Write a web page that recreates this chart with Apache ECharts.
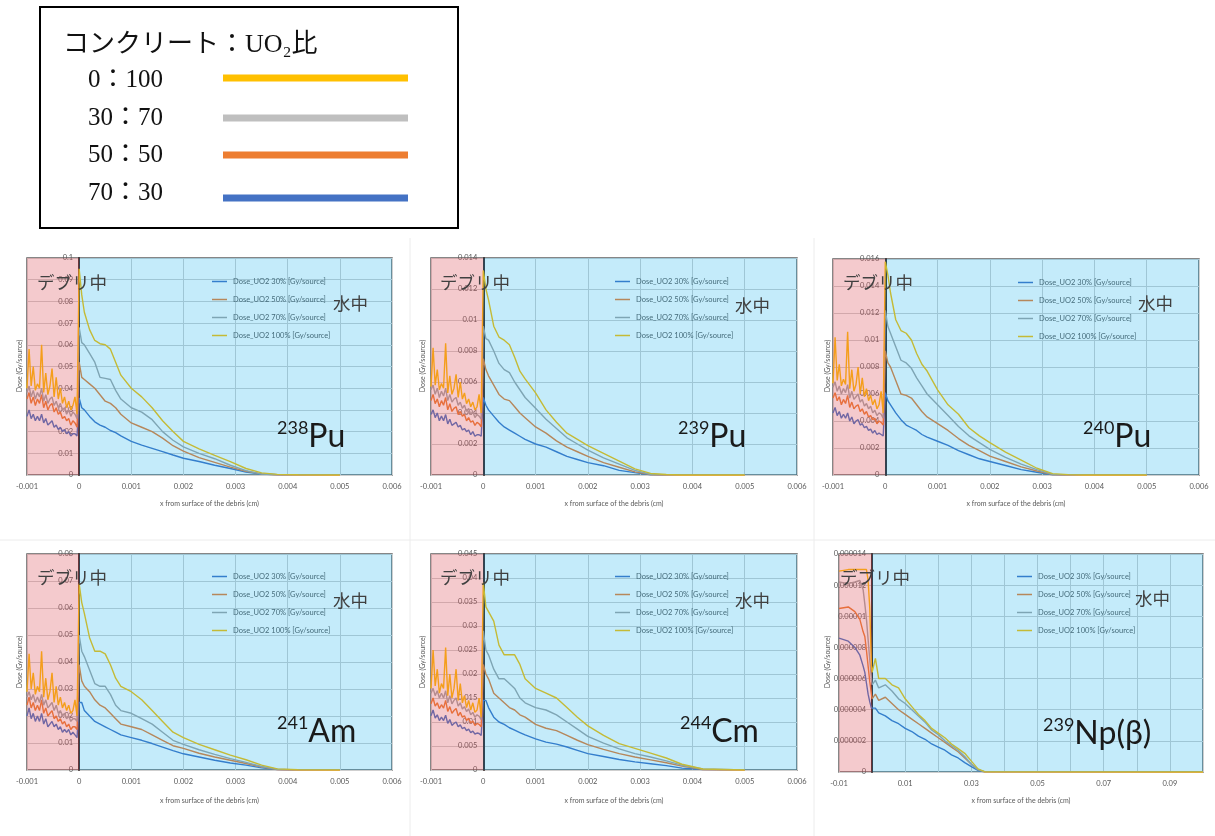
<!DOCTYPE html>
<html><head><meta charset="utf-8">
<script src="https://cdn.jsdelivr.net/npm/echarts@6/dist/echarts.min.js"></script>
<style>html,body{margin:0;padding:0;background:#fff}#c{width:1215px;height:836px}</style>
</head><body><div id="c"></div><script>
// ---- series names / legend labels ----
const seriesNames = ['Dose_UO2 30% [Gy/source]', 'Dose_UO2 50% [Gy/source]', 'Dose_UO2 70% [Gy/source]', 'Dose_UO2 100% [Gy/source]'];
const ratioLabels = ['0：100', '30：70', '50：50', '70：30'];

// ---- x positions (cm) for panels 1-5 ----
const xDebris = [-0.001, -0.00096, -0.00092, -0.00088, -0.00084, -0.0008, -0.00076, -0.00072, -0.00068, -0.00064, -0.0006, -0.00056, -0.00052, -0.00048, -0.00044, -0.0004, -0.00036, -0.00032, -0.00028, -0.00024, -0.0002, -0.00016, -0.00012, -0.00008, -0.00004];
const xWater = [0, 0.00005, 0.0001, 0.0002, 0.0003, 0.0004, 0.0005, 0.0006, 0.0007, 0.0008, 0.001, 0.0012, 0.0014, 0.0016, 0.0018, 0.002, 0.0023, 0.0026, 0.0029, 0.0032, 0.0035, 0.0038, 0.0042, 0.005];

// ---- 238Pu ----
const pu238_30 = [0.027, 0.030, 0.026, 0.028, 0.025, 0.027, 0.025, 0.028, 0.024, 0.026, 0.023, 0.024, 0.025, 0.022, 0.023, 0.021, 0.022, 0.020, 0.021, 0.019, 0.020, 0.018, 0.019, 0.019, 0.018,
  0.0355, 0.031, 0.030, 0.027, 0.0245, 0.023, 0.022, 0.0205, 0.0195, 0.018, 0.0155, 0.0138, 0.0123, 0.0108, 0.0092, 0.0077, 0.0062, 0.0045, 0.003, 0.0014, 0.0004, 0.0001, 0, 0];
const pu238_50 = [0.035, 0.038, 0.033, 0.036, 0.032, 0.035, 0.033, 0.037, 0.031, 0.034, 0.030, 0.032, 0.033, 0.029, 0.031, 0.028, 0.029, 0.026, 0.027, 0.025, 0.026, 0.023, 0.025, 0.024, 0.022,
  0.052, 0.045, 0.044, 0.042, 0.040, 0.037, 0.034, 0.033, 0.031, 0.028, 0.024, 0.022, 0.020, 0.017, 0.0135, 0.011, 0.008, 0.0058, 0.0036, 0.0017, 0.0005, 0.0001, 0, 0];
const pu238_70 = [0.038, 0.041, 0.036, 0.039, 0.035, 0.038, 0.036, 0.040, 0.034, 0.037, 0.033, 0.035, 0.036, 0.032, 0.034, 0.031, 0.033, 0.030, 0.031, 0.028, 0.030, 0.027, 0.029, 0.028, 0.026,
  0.068, 0.061, 0.060, 0.056, 0.052, 0.045, 0.0445, 0.044, 0.039, 0.035, 0.031, 0.029, 0.0255, 0.020, 0.016, 0.013, 0.010, 0.0075, 0.0045, 0.002, 0.0004, 0.0001, 0, 0];
const pu238_100 = [0.040, 0.058, 0.041, 0.050, 0.039, 0.042, 0.040, 0.060, 0.038, 0.047, 0.037, 0.041, 0.049, 0.036, 0.045, 0.035, 0.040, 0.033, 0.036, 0.031, 0.034, 0.030, 0.032, 0.036, 0.028,
  0.095, 0.083, 0.075, 0.067, 0.062, 0.0605, 0.060, 0.058, 0.052, 0.046, 0.040, 0.036, 0.031, 0.025, 0.020, 0.0155, 0.012, 0.009, 0.0062, 0.003, 0.001, 0.0003, 0.0001, 0];

// ---- 239Pu ----
const pu239_30 = [0.0039, 0.0042, 0.0037, 0.0040, 0.0035, 0.0038, 0.0035, 0.0039, 0.0033, 0.0036, 0.0032, 0.0033, 0.0034, 0.0031, 0.0032, 0.0029, 0.0030, 0.0028, 0.0029, 0.0026, 0.0028, 0.0025, 0.0026, 0.0026, 0.0025,
  0.0050, 0.0045, 0.0042, 0.0038, 0.0034, 0.0031, 0.0029, 0.0027, 0.0025, 0.0023, 0.0020, 0.0018, 0.0015, 0.0012, 0.0010, 0.0008, 0.0006, 0.0003, 0.00015, 0.00002, 0, 0, 0, 0];
const pu239_50 = [0.0048, 0.0052, 0.0046, 0.0049, 0.0044, 0.0048, 0.0045, 0.0050, 0.0042, 0.0046, 0.0041, 0.0043, 0.0044, 0.0039, 0.0041, 0.0038, 0.0039, 0.0035, 0.0037, 0.0034, 0.0035, 0.0032, 0.0034, 0.0033, 0.0031,
  0.0075, 0.0068, 0.0064, 0.0058, 0.0052, 0.0049, 0.0048, 0.0044, 0.0040, 0.0037, 0.0031, 0.0027, 0.0022, 0.0018, 0.0015, 0.0012, 0.0008, 0.0005, 0.0002, 0.00003, 0, 0, 0, 0];
const pu239_70 = [0.0055, 0.0058, 0.0052, 0.0056, 0.0050, 0.0054, 0.0051, 0.0056, 0.0048, 0.0052, 0.0047, 0.0049, 0.0050, 0.0045, 0.0047, 0.0043, 0.0045, 0.0041, 0.0043, 0.0039, 0.0041, 0.0037, 0.0039, 0.0038, 0.0036,
  0.0096, 0.0088, 0.0087, 0.0080, 0.0072, 0.0068, 0.0066, 0.0060, 0.0055, 0.0050, 0.0043, 0.0036, 0.0030, 0.0024, 0.0020, 0.0016, 0.0011, 0.0007, 0.0003, 0.00005, 0, 0, 0, 0];
const pu239_100 = [0.0057, 0.0082, 0.0058, 0.0068, 0.0055, 0.0059, 0.0056, 0.0085, 0.0053, 0.0064, 0.0052, 0.0056, 0.0065, 0.0050, 0.0060, 0.0049, 0.0053, 0.0046, 0.0049, 0.0044, 0.0047, 0.0042, 0.0044, 0.0052, 0.0040,
  0.0132, 0.0120, 0.0113, 0.0096, 0.0089, 0.0087, 0.0084, 0.0076, 0.0067, 0.0062, 0.0053, 0.0042, 0.0034, 0.0027, 0.0023, 0.0019, 0.0014, 0.0009, 0.0004, 0.0001, 0.00003, 0, 0, 0];

// ---- 240Pu ----
const pu240_30 = [0.0046, 0.0050, 0.0044, 0.0047, 0.0042, 0.0045, 0.0042, 0.0046, 0.0040, 0.0043, 0.0038, 0.0040, 0.0041, 0.0037, 0.0038, 0.0035, 0.0036, 0.0033, 0.0034, 0.0031, 0.0033, 0.0030, 0.0031, 0.0030, 0.0029,
  0.0061, 0.0055, 0.0052, 0.0046, 0.0041, 0.0037, 0.0035, 0.0033, 0.0030, 0.0028, 0.0025, 0.0022, 0.0018, 0.0015, 0.0012, 0.0010, 0.0007, 0.0004, 0.0002, 0.00002, 0, 0, 0, 0];
const pu240_50 = [0.0057, 0.0061, 0.0055, 0.0058, 0.0052, 0.0056, 0.0053, 0.0059, 0.0050, 0.0054, 0.0049, 0.0051, 0.0052, 0.0047, 0.0049, 0.0045, 0.0047, 0.0043, 0.0044, 0.0041, 0.0042, 0.0038, 0.0040, 0.0039, 0.0037,
  0.0092, 0.0083, 0.0080, 0.0070, 0.0060, 0.0059, 0.0057, 0.0052, 0.0047, 0.0043, 0.0038, 0.0033, 0.0027, 0.0022, 0.0018, 0.0014, 0.0010, 0.0006, 0.0003, 0.00004, 0, 0, 0, 0];
const pu240_70 = [0.0065, 0.0069, 0.0062, 0.0066, 0.0060, 0.0064, 0.0061, 0.0067, 0.0057, 0.0062, 0.0056, 0.0058, 0.0060, 0.0054, 0.0056, 0.0051, 0.0053, 0.0049, 0.0051, 0.0046, 0.0048, 0.0044, 0.0046, 0.0045, 0.0042,
  0.0122, 0.0110, 0.0105, 0.0095, 0.0085, 0.0083, 0.0079, 0.0072, 0.0066, 0.0060, 0.0052, 0.0044, 0.0036, 0.0029, 0.0024, 0.0019, 0.0013, 0.0008, 0.0004, 0.00005, 0, 0, 0, 0];
const pu240_100 = [0.0068, 0.0102, 0.0070, 0.0082, 0.0066, 0.0071, 0.0067, 0.0106, 0.0064, 0.0078, 0.0062, 0.0067, 0.0080, 0.0060, 0.0072, 0.0058, 0.0064, 0.0055, 0.0059, 0.0052, 0.0056, 0.0049, 0.0052, 0.0062, 0.0046,
  0.0158, 0.0148, 0.0135, 0.0115, 0.0107, 0.0105, 0.0100, 0.0090, 0.0082, 0.0077, 0.0063, 0.0052, 0.0045, 0.0035, 0.0029, 0.0024, 0.0017, 0.0011, 0.0005, 0.0001, 0.00003, 0, 0, 0];

// ---- 241Am ----
const am241_30 = [0.020, 0.023, 0.019, 0.021, 0.018, 0.020, 0.018, 0.021, 0.017, 0.019, 0.016, 0.017, 0.018, 0.016, 0.017, 0.015, 0.016, 0.014, 0.015, 0.014, 0.015, 0.013, 0.014, 0.013, 0.012,
  0.025, 0.025, 0.022, 0.020, 0.018, 0.017, 0.016, 0.015, 0.014, 0.013, 0.012, 0.011, 0.0098, 0.0085, 0.0072, 0.006, 0.0048, 0.0036, 0.0026, 0.0018, 0.0008, 0.0002, 0, 0];
const am241_50 = [0.024, 0.027, 0.023, 0.025, 0.022, 0.024, 0.022, 0.026, 0.021, 0.023, 0.020, 0.021, 0.022, 0.019, 0.020, 0.018, 0.019, 0.017, 0.018, 0.016, 0.017, 0.015, 0.016, 0.016, 0.015,
  0.039, 0.033, 0.031, 0.029, 0.026, 0.024, 0.023, 0.021, 0.019, 0.017, 0.016, 0.015, 0.013, 0.011, 0.009, 0.008, 0.0062, 0.0048, 0.0036, 0.0024, 0.0011, 0.0002, 0, 0];
const am241_70 = [0.027, 0.029, 0.026, 0.028, 0.025, 0.027, 0.025, 0.028, 0.024, 0.026, 0.023, 0.024, 0.025, 0.022, 0.024, 0.021, 0.022, 0.020, 0.021, 0.019, 0.020, 0.018, 0.019, 0.019, 0.018,
  0.050, 0.044, 0.042, 0.037, 0.032, 0.031, 0.031, 0.028, 0.024, 0.022, 0.021, 0.019, 0.017, 0.014, 0.011, 0.0095, 0.0075, 0.0058, 0.0042, 0.0028, 0.0013, 0.0003, 0, 0];
const am241_100 = [0.029, 0.043, 0.030, 0.036, 0.028, 0.031, 0.029, 0.044, 0.027, 0.034, 0.026, 0.029, 0.036, 0.025, 0.031, 0.024, 0.027, 0.023, 0.025, 0.022, 0.024, 0.021, 0.022, 0.026, 0.020,
  0.069, 0.062, 0.058, 0.049, 0.044, 0.044, 0.043, 0.039, 0.034, 0.031, 0.029, 0.026, 0.022, 0.018, 0.014, 0.012, 0.0095, 0.0075, 0.0055, 0.0038, 0.0018, 0.0004, 0.0001, 0];

// ---- 244Cm ----
const cm244_30 = [0.0113, 0.0125, 0.0108, 0.0115, 0.0103, 0.011, 0.0103, 0.0114, 0.0097, 0.0105, 0.0093, 0.0097, 0.01, 0.009, 0.0094, 0.0086, 0.0089, 0.0082, 0.0085, 0.0078, 0.0081, 0.0075, 0.0077, 0.0076, 0.0072,
  0.0145, 0.0145, 0.013, 0.011, 0.010, 0.0095, 0.0088, 0.0083, 0.0078, 0.0073, 0.0065, 0.0058, 0.0054, 0.0048, 0.0041, 0.0034, 0.0028, 0.0022, 0.0017, 0.0013, 0.0009, 0.0004, 0.0001, 0];
const cm244_50 = [0.0138, 0.015, 0.0133, 0.014, 0.0128, 0.0136, 0.0129, 0.0145, 0.0122, 0.0132, 0.0118, 0.0124, 0.0128, 0.0113, 0.012, 0.011, 0.0113, 0.0103, 0.0108, 0.0098, 0.0102, 0.0093, 0.0097, 0.0095, 0.009,
  0.022, 0.020, 0.019, 0.016, 0.015, 0.014, 0.013, 0.0125, 0.0115, 0.011, 0.0095, 0.0087, 0.0082, 0.0072, 0.0062, 0.0053, 0.0043, 0.0034, 0.0027, 0.0021, 0.0015, 0.0008, 0.0001, 0];
const cm244_70 = [0.016, 0.017, 0.0155, 0.0165, 0.015, 0.016, 0.015, 0.0165, 0.014, 0.0155, 0.0138, 0.0145, 0.015, 0.0133, 0.014, 0.0127, 0.0132, 0.0122, 0.0127, 0.0115, 0.012, 0.011, 0.0115, 0.0112, 0.0105,
  0.029, 0.025, 0.024, 0.021, 0.019, 0.019, 0.018, 0.017, 0.015, 0.014, 0.013, 0.0125, 0.0115, 0.010, 0.0085, 0.007, 0.0056, 0.0044, 0.0034, 0.0027, 0.0019, 0.001, 0.0002, 0];
const cm244_100 = [0.017, 0.025, 0.0175, 0.021, 0.016, 0.018, 0.017, 0.0255, 0.0155, 0.020, 0.015, 0.017, 0.021, 0.0145, 0.018, 0.014, 0.0155, 0.013, 0.0145, 0.0125, 0.014, 0.012, 0.0125, 0.015, 0.011,
  0.039, 0.034, 0.033, 0.031, 0.026, 0.024, 0.024, 0.024, 0.022, 0.019, 0.017, 0.016, 0.015, 0.013, 0.011, 0.0092, 0.0072, 0.0055, 0.0045, 0.0035, 0.0025, 0.0012, 0.0002, 0];

// ---- 239Np (beta): own x positions ----
const npXDebris = [-0.01, -0.0097, -0.0072, -0.0052, -0.0037, -0.0027, -0.0022, -0.0017, -0.0012, -0.0007, -0.0002];
const npXWater = [0, 0.001, 0.002, 0.004, 0.006, 0.008, 0.010, 0.012, 0.014, 0.016, 0.018, 0.020, 0.022, 0.024, 0.026, 0.028, 0.030, 0.032, 0.034, 0.1];
const np239_30 = [8.6e-6, 8.6e-6, 8.4e-6, 8.0e-6, 7.5e-6, 6.8e-6, 6.4e-6, 5.7e-6, 5.0e-6, 4.5e-6, 4.1e-6,
  4.0e-6, 4.1e-6, 3.8e-6, 3.6e-6, 3.3e-6, 3.1e-6, 2.8e-6, 2.6e-6, 2.3e-6, 2.1e-6, 1.8e-6, 1.6e-6, 1.4e-6, 1.1e-6, 0.9e-6, 0.6e-6, 0.35e-6, 0.1e-6, 0.01e-6, 0];
const np239_50 = [10.5e-6, 10.5e-6, 10.6e-6, 10.3e-6, 9.8e-6, 9.0e-6, 8.7e-6, 7.8e-6, 6.8e-6, 5.8e-6, 5.0e-6,
  4.7e-6, 5.0e-6, 4.6e-6, 4.8e-6, 4.4e-6, 4.0e-6, 3.7e-6, 3.4e-6, 3.1e-6, 2.8e-6, 2.5e-6, 2.2e-6, 1.9e-6, 1.6e-6, 1.3e-6, 0.9e-6, 0.5e-6, 0.15e-6, 0.01e-6, 0];
const np239_70 = [12.2e-6, 12.2e-6, 12.1e-6, 12.2e-6, 12.3e-6, 11.7e-6, 10.8e-6, 9.8e-6, 8.5e-6, 7.2e-6, 6.0e-6,
  5.6e-6, 5.9e-6, 5.4e-6, 5.6e-6, 5.2e-6, 4.7e-6, 4.4e-6, 4.0e-6, 3.6e-6, 3.2e-6, 2.7e-6, 2.4e-6, 2.0e-6, 1.7e-6, 1.4e-6, 1.0e-6, 0.5e-6, 0.15e-6, 0.02e-6, 0];
const np239_100 = [12.9e-6, 12.9e-6, 13.0e-6, 13.0e-6, 13.0e-6, 13.0e-6, 13.1e-6, 13.0e-6, 12.3e-6, 10.5e-6, 6.8e-6,
  6.4e-6, 7.3e-6, 6.0e-6, 6.0e-6, 5.6e-6, 5.4e-6, 4.7e-6, 4.2e-6, 3.7e-6, 3.3e-6, 2.8e-6, 2.5e-6, 2.2e-6, 1.8e-6, 1.5e-6, 1.2e-6, 0.7e-6, 0.2e-6, 0.02e-6, 0];

// ---- styling / layout ----
const lineColors = ['#4472C4', '#ED7D31', '#A5A5A5', '#FFC000'];
const legendColors = ['#FFC000', '#BFBFBF', '#ED7D31', '#4472C4'];
const xAllA = xDebris.concat(xWater);
const xAllB = npXDebris.concat(npXWater);

const panels = [
  {grid: {left: 27, top: 258, width: 365, height: 217}, xr: [-0.001, 0.006, 0.001], yr: [0.1, 0.01], xs: xAllA, data: [pu238_30, pu238_50, pu238_70, pu238_100], iso: ['238', 'Pu'], legend: [207, 272], deb: [37, 282], wat: [333, 303], isoPos: [277, 419], yname: [20, 366], gap: 25},
  {grid: {left: 431, top: 258, width: 366, height: 217}, xr: [-0.001, 0.006, 0.001], yr: [0.014, 0.002], xs: xAllA, data: [pu239_30, pu239_50, pu239_70, pu239_100], iso: ['239', 'Pu'], legend: [610, 272], deb: [440, 282], wat: [735, 305], isoPos: [678, 419], yname: [423, 366], gap: 25},
  {grid: {left: 833, top: 259, width: 366, height: 216}, xr: [-0.001, 0.006, 0.001], yr: [0.016, 0.002], xs: xAllA, data: [pu240_30, pu240_50, pu240_70, pu240_100], iso: ['240', 'Pu'], legend: [1013, 273], deb: [843, 282], wat: [1138, 303], isoPos: [1083, 419], yname: [828, 366], gap: 25},
  {grid: {left: 27, top: 554, width: 365, height: 216}, xr: [-0.001, 0.006, 0.001], yr: [0.08, 0.01], xs: xAllA, data: [am241_30, am241_50, am241_70, am241_100], iso: ['241', 'Am'], legend: [207, 567], deb: [37, 577], wat: [333, 600], isoPos: [277, 714], yname: [20, 662], gap: 27},
  {grid: {left: 431, top: 554, width: 366, height: 216}, xr: [-0.001, 0.006, 0.001], yr: [0.045, 0.005], xs: xAllA, data: [cm244_30, cm244_50, cm244_70, cm244_100], iso: ['244', 'Cm'], legend: [610, 567], deb: [440, 577], wat: [735, 600], isoPos: [680, 714], yname: [423, 662], gap: 27},
  {grid: {left: 839, top: 554, width: 364, height: 218}, xr: [-0.01, 0.1, 0.01], yr: [0.000014, 0.000002], xs: xAllB, data: [np239_30, np239_50, np239_70, np239_100], iso: ['239', 'Np(β)'], legend: [1012, 567], deb: [840, 577], wat: [1135, 598], isoPos: [1043, 716], yname: [828, 662], gap: 25, np: true}
];

const grids = [], xAxes = [], yAxes = [], series = [], legends = [], graphics = [];
const axisLblColor = '#595959';
const smallFont = 'Lato, "Noto Sans", sans-serif';

panels.forEach((p, i) => {
  grids.push(Object.assign({show: true, borderColor: '#5f5f5f', borderWidth: 1.5, backgroundColor: 'transparent'}, p.grid));
  xAxes.push({
    type: 'value', gridIndex: i, min: p.xr[0], max: p.xr[1], interval: p.xr[2],
    name: 'x from surface of the debris (cm)', nameLocation: 'middle', nameGap: p.gap,
    nameTextStyle: {fontSize: 7, color: axisLblColor, fontFamily: smallFont},
    axisLine: {show: false}, axisTick: {show: false},
    splitLine: {show: true, lineStyle: {color: '#cfcfcf', width: 1}},
    axisLabel: {fontSize: 7.5, color: axisLblColor, fontFamily: smallFont, margin: 8,
      formatter: p.np ? (v => { const n = Math.round(v * 100); return Math.abs(n) % 2 === 1 ? String(n / 100) : ''; }) : (v => String(+v.toFixed(4)))}
  });
  // the value axis sits at x = 0 (the debris surface)
  const zeroOffset = -p.grid.width * (0 - p.xr[0]) / (p.xr[1] - p.xr[0]);
  yAxes.push({
    type: 'value', gridIndex: i, min: 0, max: p.yr[0], interval: p.yr[1],
    position: 'left', offset: zeroOffset,
    axisLine: {show: true, onZero: false, lineStyle: {color: '#3a2a2a', width: 2}},
    axisTick: {show: false},
    splitLine: {show: true, lineStyle: {color: '#cfcfcf', width: 1}},
    axisLabel: {fontSize: 7.5, color: axisLblColor, fontFamily: smallFont, margin: 6,
      formatter: p.np ? (v => v === 0 ? '0' : String(+v.toFixed(6))) : (v => String(+v.toFixed(4)))}
  });
  p.data.forEach((vals, k) => {
    series.push({
      type: 'line', name: seriesNames[k], xAxisIndex: i, yAxisIndex: i,
      data: p.xs.map((x, j) => [x, vals[j]]),
      showSymbol: false, symbol: 'none', silent: true, z: 2,
      lineStyle: {width: 1.4, color: lineColors[k]}, itemStyle: {color: lineColors[k]}
    });
  });
  // tinted regions (debris / water), drawn over the lines like the original
  series.push({
    type: 'custom', xAxisIndex: i, yAxisIndex: i, zlevel: 1, z: 5, silent: true,
    data: [[p.xr[0], 0, 0, p.yr[0]], [0, p.xr[1], 0, p.yr[0]]],
    encode: {x: [0, 1], y: [2, 3]},
    renderItem: function (params, api) {
      const a = api.coord([api.value(0), api.value(3)]);
      const b = api.coord([api.value(1), api.value(2)]);
      return {type: 'rect', shape: {x: a[0], y: a[1], width: b[0] - a[0], height: b[1] - a[1]},
        style: {fill: params.dataIndex === 0 ? 'rgba(220,80,90,0.30)' : 'rgba(0,170,235,0.23)'}};
    }
  });
  legends.push({
    orient: 'vertical', left: p.legend[0], top: p.legend[1], data: seriesNames, selectedMode: false,
    icon: 'rect', itemWidth: 15, itemHeight: 1.5, itemGap: 9,
    textStyle: {fontSize: 7.5, lineHeight: 9, color: '#595959', fontFamily: smallFont, padding: [0, 0, 0, 1]}
  });
  graphics.push({type: 'text', zlevel: 2, z: 100, style: {text: 'デブリ中', x: p.deb[0], y: p.deb[1], fontSize: 17.5, fontFamily: '"Noto Sans CJK JP", sans-serif', fill: '#404040', verticalAlign: 'middle'}});
  graphics.push({type: 'text', zlevel: 2, z: 100, style: {text: '水中', x: p.wat[0], y: p.wat[1], fontSize: 17.5, fontFamily: '"Noto Sans CJK JP", sans-serif', fill: '#404040', verticalAlign: 'middle'}});
  graphics.push({type: 'text', zlevel: 2, z: 100, style: {
    text: '{s|' + p.iso[0] + '}{b|' + p.iso[1] + '}', x: p.isoPos[0], y: p.isoPos[1], verticalAlign: 'top',
    rich: {s: {fontSize: 18, lineHeight: 18, verticalAlign: 'top', fontFamily: 'Lato, "Noto Sans", sans-serif', fill: '#1a1a1a'},
           b: {fontSize: 32, lineHeight: 34, verticalAlign: 'bottom', fontFamily: 'Lato, "Noto Sans", sans-serif', fill: '#1a1a1a'}}
  }});
  graphics.push({type: 'text', z: 100, x: p.yname[0], y: p.yname[1], rotation: Math.PI / 2, style: {
    text: 'Dose (Gy/source)', x: 0, y: 0, align: 'center', verticalAlign: 'middle', fontSize: 7, fill: axisLblColor, fontFamily: smallFont}});
});

// faint panel separators
graphics.push({type: 'line', z: 1, shape: {x1: 410, y1: 238, x2: 410, y2: 836}, style: {stroke: '#ececec', lineWidth: 1}});
graphics.push({type: 'line', z: 1, shape: {x1: 814, y1: 238, x2: 814, y2: 836}, style: {stroke: '#ececec', lineWidth: 1}});
graphics.push({type: 'line', z: 1, shape: {x1: 0, y1: 540, x2: 1215, y2: 540}, style: {stroke: '#ececec', lineWidth: 1}});

// top legend box
graphics.push({type: 'rect', z: 50, shape: {x: 40, y: 7, width: 418, height: 221}, style: {fill: '#fff', stroke: '#000', lineWidth: 2}});
graphics.push({type: 'text', z: 51, style: {text: 'コンクリート：UO₂比', x: 63, y: 45, fontSize: 26, fontFamily: '"Liberation Serif", "Noto Sans CJK JP", serif', fill: '#111', verticalAlign: 'middle'}});
const rowY = [80, 118, 155, 193];
const lineY = [78, 118, 155, 198];
ratioLabels.forEach((t, k) => {
  graphics.push({type: 'text', z: 51, style: {text: t, x: 88, y: rowY[k], fontSize: 25, fontFamily: '"Liberation Serif", "Noto Sans CJK JP", serif', fill: '#111', verticalAlign: 'middle'}});
  graphics.push({type: 'line', z: 51, shape: {x1: 223, y1: lineY[k], x2: 408, y2: lineY[k]}, style: {stroke: legendColors[k], lineWidth: 7}});
});

const chart = echarts.init(document.getElementById('c'), null, {renderer: 'canvas'});
chart.setOption({
  animation: false,
  backgroundColor: '#ffffff',
  grid: grids, xAxis: xAxes, yAxis: yAxes, series: series, legend: legends, graphic: graphics
});
</script></body></html>
